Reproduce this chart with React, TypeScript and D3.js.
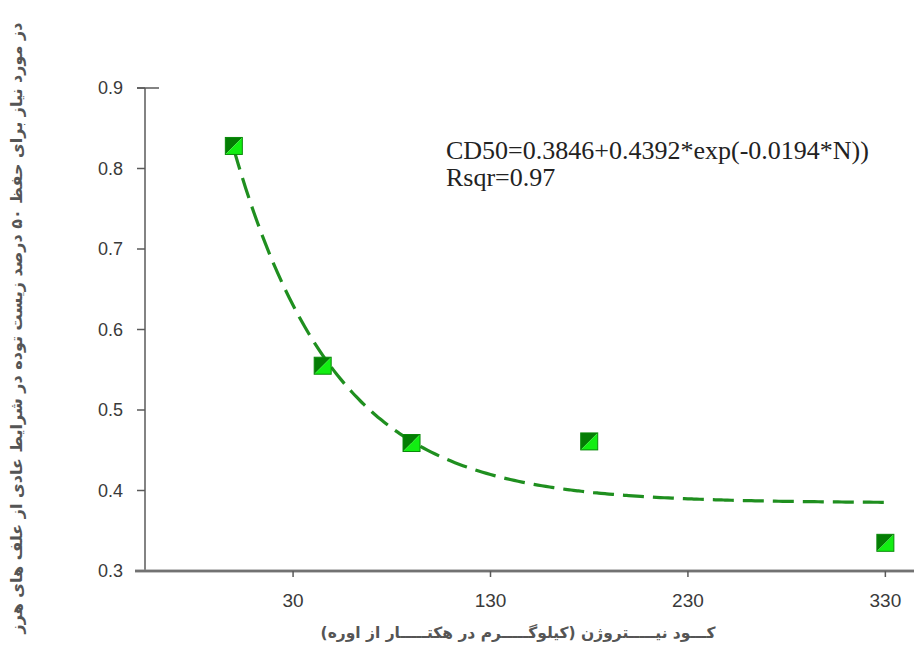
import React from "react";
import * as d3 from "d3";

const nitrogen = [0, 45, 90, 180, 330];
const cd50 = [0.828, 0.555, 0.459, 0.461, 0.335];
const xTicks = [30, 130, 230, 330];
const yTicks = [0.3, 0.4, 0.5, 0.6, 0.7, 0.8, 0.9];
const fitA = 0.3846;
const fitB = 0.4392;
const fitK = -0.0194;
const equationLines = ["CD50=0.3846+0.4392*exp(-0.0194*N))", "Rsqr=0.97"];
const yLabel = "دز مورد نیاز برای حفظ ۵۰ درصد زیست توده در شرایط عادی از علف های هرز";
const xLabel = "کـــود نیـــــتروژن (کیلوگـــــرم در هکتـــــار از اوره)";

const W = 914;
const H = 657;

export default function App() {
  const x = d3.scaleLinear().domain([-45, 344]).range([145, 913]);
  const y = d3.scaleLinear().domain([0.3, 0.9]).range([571, 88]);

  const fitPts: [number, number][] = d3.range(0, 330.5, 2).map((n) => [n, fitA + fitB * Math.exp(fitK * n)]);
  const line = d3
    .line<[number, number]>()
    .x((d) => x(d[0]))
    .y((d) => y(d[1]))
    .curve(d3.curveMonotoneX);

  const s = 8.5;
  const axisColor = "#5a5a5a";
  const labelFont = "Arial, 'Liberation Sans', sans-serif";

  return (
    <svg width={W} height={H} style={{ position: "absolute", left: 0, top: 0, background: "#fff" }}>
      {/* y axis */}
      <line x1={x(-45)} x2={x(-45)} y1={y(0.9)} y2={y(0.3)} stroke={axisColor} strokeWidth={1.5} />
      <line x1={x(-45) - 8} x2={x(-45) + 14} y1={y(0.9)} y2={y(0.9)} stroke={axisColor} strokeWidth={1.5} />
      {yTicks.map((t) => (
        <g key={t}>
          <line x1={x(-45) - 8} x2={x(-45)} y1={y(t)} y2={y(t)} stroke={axisColor} strokeWidth={1.5} />
          <text x={x(-45) - 22} y={y(t)} dy="0.36em" textAnchor="end" fontFamily={labelFont} fontSize={18} fill="#3a3a3a">
            {d3.format(".1f")(t)}
          </text>
        </g>
      ))}
      {/* x axis */}
      <line x1={x(-45) - 10} x2={W} y1={y(0.3)} y2={y(0.3)} stroke="#8a8a8a" strokeWidth={3} />
      <line x1={x(-45) - 10} x2={W} y1={y(0.3)} y2={y(0.3)} stroke={axisColor} strokeWidth={1} />
      {xTicks.map((t) => (
        <g key={t}>
          <line x1={x(t)} x2={x(t)} y1={y(0.3)} y2={y(0.3) + 6} stroke={axisColor} strokeWidth={1.5} />
          <text x={x(t)} y={y(0.3) + 36} textAnchor="middle" fontFamily={labelFont} fontSize={19} fill="#3a3a3a">
            {t}
          </text>
        </g>
      ))}
      {/* fitted curve */}
      <path d={line(fitPts) || ""} fill="none" stroke="#1f8f1f" strokeWidth={3.2} strokeDasharray="21 9" />
      {/* points */}
      {nitrogen.map((n, i) => {
        const cx = x(n);
        const cy = y(cd50[i]);
        return (
          <g key={i}>
            <polygon points={`${cx - s},${cy - s} ${cx + s},${cy - s} ${cx - s},${cy + s}`} fill="#047d04" />
            <polygon points={`${cx + s},${cy - s} ${cx + s},${cy + s} ${cx - s},${cy + s}`} fill="#12ee12" />
            <rect x={cx - s} y={cy - s} width={2 * s} height={2 * s} fill="none" stroke="#0a8a0a" strokeWidth={1} />
          </g>
        );
      })}
      {/* equation */}
      {equationLines.map((l, i) => (
        <text key={i} x={446} y={159 + i * 27} fontFamily="'Liberation Serif', 'Times New Roman', serif" fontSize={26} fill="#222">
          {l}
        </text>
      ))}
      {/* axis titles */}
      <text
        transform={`translate(22, 328) rotate(-90)`}
        textAnchor="middle"
        direction="rtl"
        fontFamily="'DejaVu Sans', sans-serif"
        fontSize={16}
        fontWeight="bold"
        fill="#555"
      >
        {yLabel}
      </text>
      <text x={518} y={638} textAnchor="middle" direction="rtl" fontFamily="'DejaVu Sans', sans-serif" fontSize={15.5} fontWeight="bold" fill="#555">
        {xLabel}
      </text>
    </svg>
  );
}
